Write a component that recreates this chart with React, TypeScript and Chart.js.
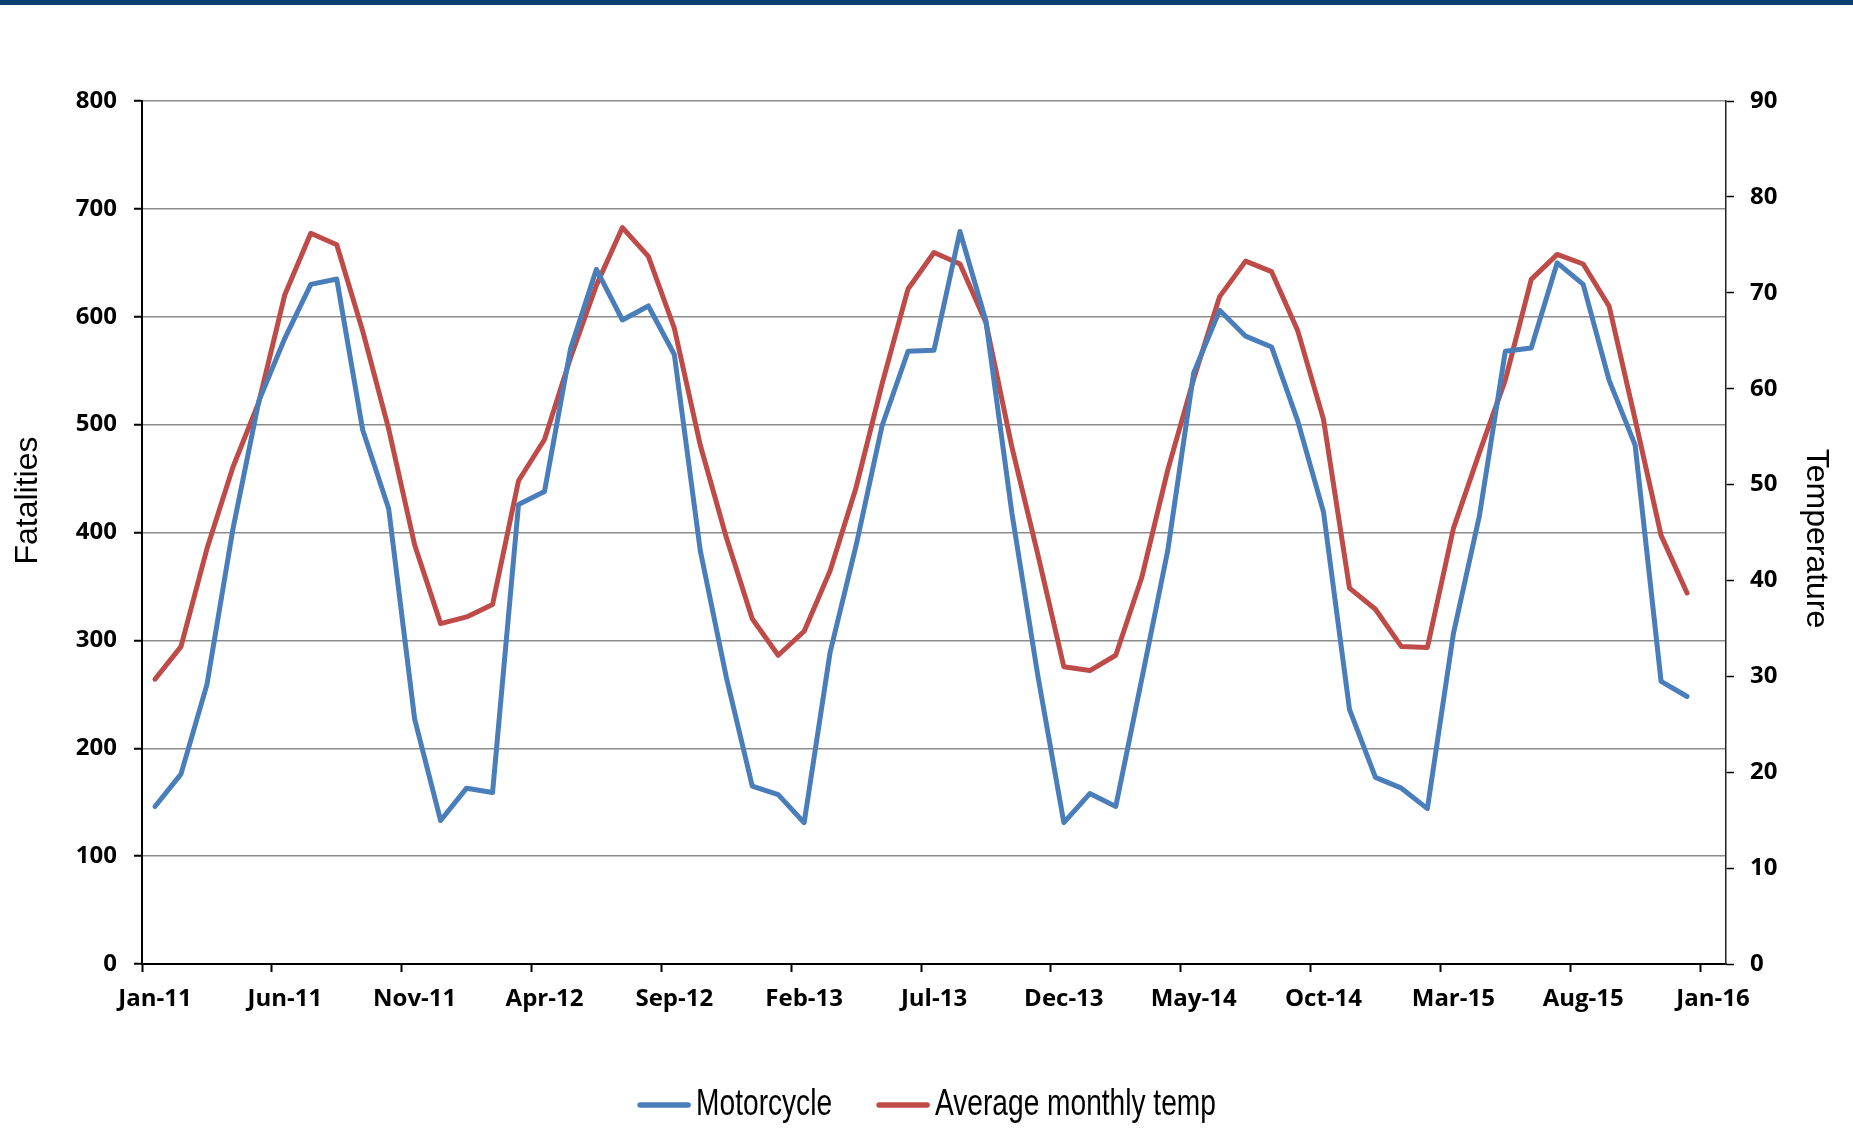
import React, { useEffect, useRef } from "react";
import { Chart, registerables } from "chart.js";

Chart.register(...registerables);

const categories: string[] = [
  "Jan-11", "Feb-11", "Mar-11", "Apr-11", "May-11", "Jun-11", "Jul-11", "Aug-11", "Sep-11", "Oct-11", "Nov-11", "Dec-11",
  "Jan-12", "Feb-12", "Mar-12", "Apr-12", "May-12", "Jun-12", "Jul-12", "Aug-12", "Sep-12", "Oct-12", "Nov-12", "Dec-12",
  "Jan-13", "Feb-13", "Mar-13", "Apr-13", "May-13", "Jun-13", "Jul-13", "Aug-13", "Sep-13", "Oct-13", "Nov-13", "Dec-13",
  "Jan-14", "Feb-14", "Mar-14", "Apr-14", "May-14", "Jun-14", "Jul-14", "Aug-14", "Sep-14", "Oct-14", "Nov-14", "Dec-14",
  "Jan-15", "Feb-15", "Mar-15", "Apr-15", "May-15", "Jun-15", "Jul-15", "Aug-15", "Sep-15", "Oct-15", "Nov-15", "Dec-15",
  "Jan-16",
];

const motorcycle: number[] = [
  146, 176, 259, 403, 522, 580, 630, 635, 495, 422, 227, 133,
  163, 159, 426, 438, 570, 644, 597, 610, 565, 383, 266, 165,
  157, 131, 289, 388, 499, 568, 569, 679, 596, 418, 267, 131,
  158, 146, 264, 383, 548, 606, 582, 572, 504, 419, 236, 173,
  163, 144, 306, 415, 568, 571, 650, 630, 541, 481, 262, 248,
];

const avgTemp: number[] = [
  29.7, 33.1, 43.3, 51.8, 58.6, 69.8, 76.2, 75.0, 66.0, 55.8, 43.7, 35.5,
  36.2, 37.5, 50.4, 54.7, 63.2, 70.8, 76.8, 73.8, 66.3, 54.1, 44.5, 36.0,
  32.2, 34.7, 41.0, 49.7, 60.5, 70.4, 74.2, 73.0, 66.9, 53.9, 42.7, 31.0,
  30.6, 32.2, 40.3, 51.5, 61.0, 69.6, 73.3, 72.2, 66.1, 56.8, 39.2, 37.0,
  33.1, 33.0, 45.4, 53.3, 60.9, 71.4, 74.0, 73.0, 68.6, 56.8, 44.7, 38.7,
];

const seriesNames: string[] = ["Motorcycle", "Average monthly temp"];
const leftAxisTitle = "Fatalities";
const rightAxisTitle = "Temperature";

const BLUE = "#4A7EBB";
const RED = "#BE4B48";
const TICK_FONT = { family: '"Open Sans", "Liberation Sans", sans-serif', size: 24, weight: "bold" as const };
const TITLE_FONT = '32px "Liberation Sans", Arial, sans-serif';
const LEGEND_FONT = '37px "Liberation Sans Narrow", "Liberation Sans", Arial, sans-serif';
const LEGEND_SQUEEZE = 0.76;

const annotationPlugin = {
  id: "customLegendAndTitles",
  afterDraw(chart: any) {
    const ctx: CanvasRenderingContext2D = chart.ctx;
    const area = chart.chartArea;

    // axis titles
    ctx.save();
    ctx.font = TITLE_FONT;
    ctx.fillStyle = "#000";
    ctx.textAlign = "center";
    ctx.textBaseline = "middle";
    ctx.translate(28, area.top + (area.bottom - area.top) / 2 - 32);
    ctx.rotate(-Math.PI / 2);
    ctx.fillText(leftAxisTitle, 0, 0);
    ctx.restore();

    ctx.save();
    ctx.font = TITLE_FONT;
    ctx.fillStyle = "#000";
    ctx.textAlign = "center";
    ctx.textBaseline = "middle";
    ctx.translate(chart.width - 37, area.top + (area.bottom - area.top) / 2 + 6);
    ctx.rotate(Math.PI / 2);
    ctx.fillText(rightAxisTitle, 0, 0);
    ctx.restore();

    // legend
    ctx.save();
    ctx.font = LEGEND_FONT;
    ctx.textBaseline = "middle";
    ctx.textAlign = "left";
    const lineW = 54;
    const gapText = 5;
    const gapItem = 44;
    const items = chart.data.datasets.map((ds: any) => ({
      label: ds.label as string,
      color: ds.borderColor as string,
      w: ctx.measureText(ds.label).width * LEGEND_SQUEEZE,
    }));
    let total = 0;
    items.forEach((it: any, i: number) => {
      total += lineW + gapText + it.w + (i > 0 ? gapItem : 0);
    });
    let x = chart.width / 2 - total / 2;
    const y = area.bottom + 141;
    items.forEach((it: any) => {
      ctx.strokeStyle = it.color;
      ctx.lineWidth = 5.5;
      ctx.lineCap = "round";
      ctx.beginPath();
      ctx.moveTo(x + 3, y);
      ctx.lineTo(x + lineW - 3, y);
      ctx.stroke();
      x += lineW + gapText;
      ctx.save();
      ctx.translate(x, y);
      ctx.scale(LEGEND_SQUEEZE, 1);
      ctx.fillStyle = "#000";
      ctx.fillText(it.label, 0, 0);
      ctx.restore();
      x += it.w + gapItem;
    });
    ctx.restore();
  },
};

export default function App() {
  const canvasRef = useRef<HTMLCanvasElement | null>(null);

  useEffect(() => {
    if (!canvasRef.current) return;
    const chart = new Chart(canvasRef.current, {
      type: "line",
      data: {
        labels: categories,
        datasets: [
          {
            label: seriesNames[0],
            data: motorcycle,
            borderColor: BLUE,
            backgroundColor: BLUE,
            borderWidth: 5,
            pointRadius: 0,
            tension: 0,
            yAxisID: "y",
            borderJoinStyle: "round",
            borderCapStyle: "round",
          },
          {
            label: seriesNames[1],
            data: avgTemp,
            borderColor: RED,
            backgroundColor: RED,
            borderWidth: 5,
            pointRadius: 0,
            tension: 0,
            yAxisID: "y1",
            borderJoinStyle: "round",
            borderCapStyle: "round",
          },
        ],
      },
      options: {
        animation: false,
        responsive: false,
        devicePixelRatio: 1,
        layout: { padding: { top: 101, bottom: 116, left: 0, right: 0 } },
        plugins: {
          legend: { display: false },
          tooltip: { enabled: false },
        },
        scales: {
          x: {
            type: "category",
            offset: true,
            afterFit: (scale: any) => {
              scale.height = 60;
            },
            grid: {
              offset: true,
              drawOnChartArea: false,
              drawTicks: true,
              tickLength: 8,
              tickWidth: 2,
              tickColor: (ctx: any) =>
                typeof ctx.index === "number" && ctx.index % 5 === 0 ? "#000" : "rgba(0,0,0,0)",
            },
            border: { color: "#000", width: 2 },
            ticks: {
              autoSkip: false,
              maxRotation: 0,
              minRotation: 0,
              padding: 13,
              color: "#000",
              font: TICK_FONT,
              callback: (_v: any, i: number) => (i % 5 === 0 ? categories[i] : ""),
            },
          },
          y: {
            position: "left",
            min: 0,
            max: 800,
            afterFit: (scale: any) => {
              scale.width = 142;
            },
            ticks: { stepSize: 100, padding: 17, color: "#000", font: TICK_FONT },
            grid: {
              color: "#8c8c8c",
              lineWidth: 1.5,
              drawTicks: true,
              tickLength: 8,
              tickColor: "#000",
              tickWidth: 2,
            },
            border: { color: "#000", width: 2 },
          },
          y1: {
            position: "right",
            min: 0,
            max: 90,
            afterFit: (scale: any) => {
              scale.width = 127;
            },
            ticks: { stepSize: 10, padding: 16, color: "#000", font: TICK_FONT },
            grid: {
              drawOnChartArea: false,
              drawTicks: true,
              tickLength: 8,
              tickColor: "#000",
              tickWidth: 1.5,
            },
            border: { color: "#222", width: 1.5 },
          },
        },
      },
      plugins: [annotationPlugin],
    } as any);
    return () => chart.destroy();
  }, []);

  return (
    <div style={{ position: "absolute", left: 0, top: 0, width: 1853, height: 1140, background: "#fff" }}>
      <div style={{ position: "absolute", left: 0, top: 0, width: 1853, height: 5, background: "#0B3D6F", zIndex: 1 }} />
      <canvas ref={canvasRef} width={1853} height={1140} style={{ display: "block" }} />
    </div>
  );
}
